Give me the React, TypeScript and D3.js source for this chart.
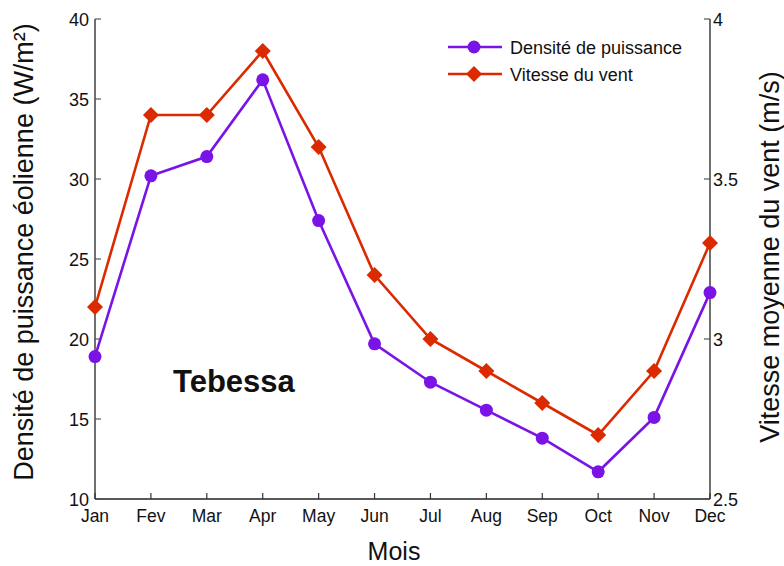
import React from "react";
import * as d3 from "d3";

const months = ["Jan", "Fev", "Mar", "Apr", "May", "Jun", "Jul", "Aug", "Sep", "Oct", "Nov", "Dec"];
const powerDensity = [18.9, 30.2, 31.4, 36.2, 27.4, 19.7, 17.3, 15.55, 13.8, 11.7, 15.1, 22.9];
const windSpeed = [3.1, 3.7, 3.7, 3.9, 3.6, 3.2, 3.0, 2.9, 2.8, 2.7, 2.9, 3.3];
const leftTicks = [10, 15, 20, 25, 30, 35, 40];
const rightTicks = [2.5, 3, 3.5, 4];

const W = 784;
const H = 566;
const L = 95, R = 710, T = 19, B = 499;
const PURPLE = "#7A14E6";
const RED = "#DC2A00";
const FONT = "'Liberation Sans', Arial, sans-serif";

export default function App() {
  const x = d3.scalePoint<string>().domain(months).range([L, R]);
  const yL = d3.scaleLinear().domain([10, 40]).range([B, T]);
  const yR = d3.scaleLinear().domain([2.5, 4]).range([B, T]);

  const linePD = d3.line<number>().x((_, i) => x(months[i])!).y((d) => yL(d));
  const lineWS = d3.line<number>().x((_, i) => x(months[i])!).y((d) => yR(d));
  const diamond = (cx: number, cy: number, r: number) =>
    `M${cx},${cy - r}L${cx + r},${cy}L${cx},${cy + r}L${cx - r},${cy}Z`;

  return (
    <svg width={W} height={H} style={{ position: "absolute", left: 0, top: 0, background: "#fff" }} fontFamily={FONT}>
      <rect width={W} height={H} fill="#fff" />
      {/* axes */}
      <line x1={L} x2={L} y1={T} y2={B} stroke="#222" strokeWidth={1.3} />
      <line x1={R} x2={R} y1={T} y2={B} stroke="#222" strokeWidth={1.3} />
      <line x1={L} x2={R} y1={B} y2={B} stroke="#222" strokeWidth={1.3} />
      {leftTicks.map((t) => (
        <g key={"l" + t}>
          <line x1={L} x2={L + 6} y1={yL(t)} y2={yL(t)} stroke="#555" strokeWidth={1.2} />
          <text x={L - 6} y={yL(t) + 6.5} fontSize={18} textAnchor="end" fill="#111">{t}</text>
        </g>
      ))}
      {rightTicks.map((t) => (
        <g key={"r" + t}>
          <line x1={R - 6} x2={R} y1={yR(t)} y2={yR(t)} stroke="#555" strokeWidth={1.2} />
          <text x={R + 3} y={yR(t) + 6.5} fontSize={18} textAnchor="start" fill="#111">{t}</text>
        </g>
      ))}
      {months.map((m) => (
        <g key={m}>
          <line x1={x(m)!} x2={x(m)!} y1={B} y2={B - 6} stroke="#333" strokeWidth={1.2} />
          <text x={x(m)!} y={522} fontSize={17.5} textAnchor="middle" fill="#111">{m}</text>
        </g>
      ))}
      {/* axis titles */}
      <text x={394} y={560} fontSize={25} textAnchor="middle" fill="#111">Mois</text>
      <text transform={`translate(33,252) rotate(-90)`} fontSize={27} textAnchor="middle" fill="#111">
        Densité de puissance éolienne (W/m²)
      </text>
      <text transform={`translate(779,257) rotate(-90)`} fontSize={27} textAnchor="middle" fill="#111">
        Vitesse moyenne du vent (m/s)
      </text>
      {/* series */}
      <path d={lineWS(windSpeed)!} fill="none" stroke={RED} strokeWidth={2.6} />
      <path d={linePD(powerDensity)!} fill="none" stroke={PURPLE} strokeWidth={2.6} />
      {windSpeed.map((v, i) => (
        <path key={"d" + i} d={diamond(x(months[i])!, yR(v), 8)} fill={RED} />
      ))}
      {powerDensity.map((v, i) => (
        <circle key={"c" + i} cx={x(months[i])!} cy={yL(v)} r={6.5} fill={PURPLE} />
      ))}
      {/* annotation */}
      <text x={173} y={392} fontSize={31} fontWeight="bold" fill="#111">Tebessa</text>
      {/* legend */}
      <line x1={448} x2={502} y1={47} y2={47} stroke={PURPLE} strokeWidth={2.6} />
      <circle cx={474} cy={47} r={6.5} fill={PURPLE} />
      <text x={510} y={53.5} fontSize={18} fill="#111">Densité de puissance</text>
      <line x1={448} x2={502} y1={74} y2={74} stroke={RED} strokeWidth={2.6} />
      <path d={diamond(474, 74, 8)} fill={RED} />
      <text x={510} y={80.5} fontSize={18} fill="#111">Vitesse du vent</text>
    </svg>
  );
}
